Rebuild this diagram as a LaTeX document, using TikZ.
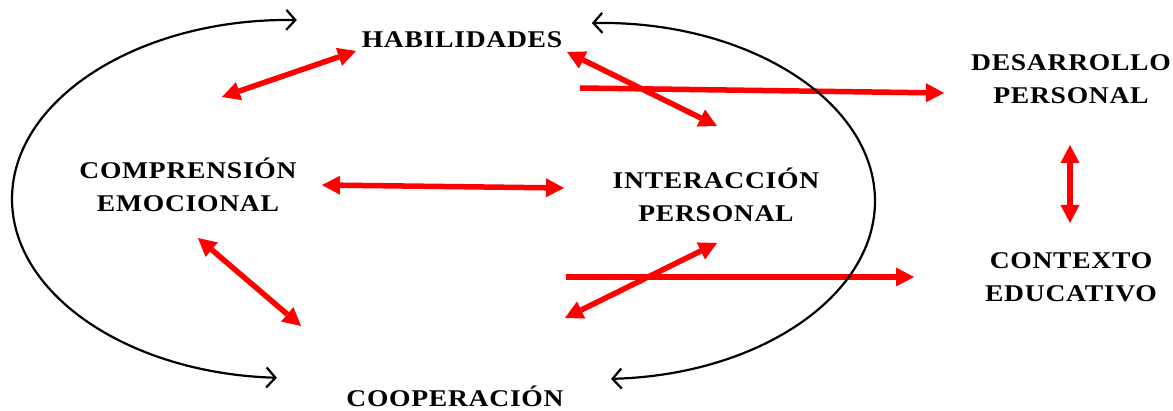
\documentclass[tikz,border=0pt]{standalone}
\usepackage{fontspec}
\newfontfamily\lblfont{Liberation Serif}[FakeStretch=1.15, LetterSpace=3]
\usetikzlibrary{arrows.meta}
\begin{document}
\begin{tikzpicture}[x=1pt,y=1pt,
  lbl/.style={font=\lblfont\bfseries\fontsize{24}{33}\selectfont, inner sep=0pt, align=center},
  redtip/.tip={Triangle[length=18pt,width=19pt,line width=0pt]},
  onelink/.style={draw=red, line width=5.5pt, -redtip},
  twolink/.style={draw=red, line width=5.5pt, redtip-redtip},
  cycle arrow/.style={draw=black, line width=2.2pt, {Straight Barb[length=9pt,width=20pt]}-{Straight Barb[length=9pt,width=20pt]}}]
\useasboundingbox[fill=white] (0,0) rectangle (1173,411);

% labels
\node[lbl, anchor=base] (hab) at (462,363) {HABILIDADES};
\node[lbl, anchor=base] (coop) at (455,4) {COOPERACIÓN};
\node[lbl] (comp) at (188,223) {\strut COMPRENSIÓN\\EMOCIONAL\strut};
\node[lbl] (inter) at (716,213) {\strut INTERACCIÓN\\PERSONAL\strut};
\node[lbl] (desa) at (1071,331) {\strut DESARROLLO\\PERSONAL\strut};
\node[lbl] (cont) at (1071,133) {\strut CONTEXTO\\EDUCATIVO\strut};

% red connector end points
\coordinate (r1a) at (222,314); \coordinate (r1b) at (356,360);
\coordinate (r2a) at (567,359); \coordinate (r2b) at (717,285);
\coordinate (r3a) at (580,323); \coordinate (r3b) at (944,318);
\coordinate (r4a) at (322,226); \coordinate (r4b) at (564,223);
\coordinate (r5a) at (1070,266); \coordinate (r5b) at (1070,188);
\coordinate (r6a) at (198,173); \coordinate (r6b) at (301,85);
\coordinate (r7a) at (717,168); \coordinate (r7b) at (565,93);
\coordinate (r8a) at (566,134); \coordinate (r8b) at (914,134);

\draw[twolink] (r1a) -- (r1b);
\draw[twolink] (r2a) -- (r2b);
\draw[onelink] (r3a) -- (r3b);
\draw[twolink] (r4a) -- (r4b);
\draw[twolink] (r5a) -- (r5b);
\draw[twolink] (r6a) -- (r6b);
\draw[twolink] (r7a) -- (r7b);
\draw[onelink] (r8a) -- (r8b);

% black cycle arcs
\coordinate (lc) at (290,212);
\coordinate (rc) at (600,210);
\draw[cycle arrow] ([shift={(88.6:278 and 179)}]lc) arc[start angle=88.6, end angle=267.3, x radius=278, y radius=179];
\draw[cycle arrow] ([shift={(91.7:275 and 178)}]rc) arc[start angle=91.7, end angle=-87.7, x radius=275, y radius=178];
\end{tikzpicture}
\end{document}
